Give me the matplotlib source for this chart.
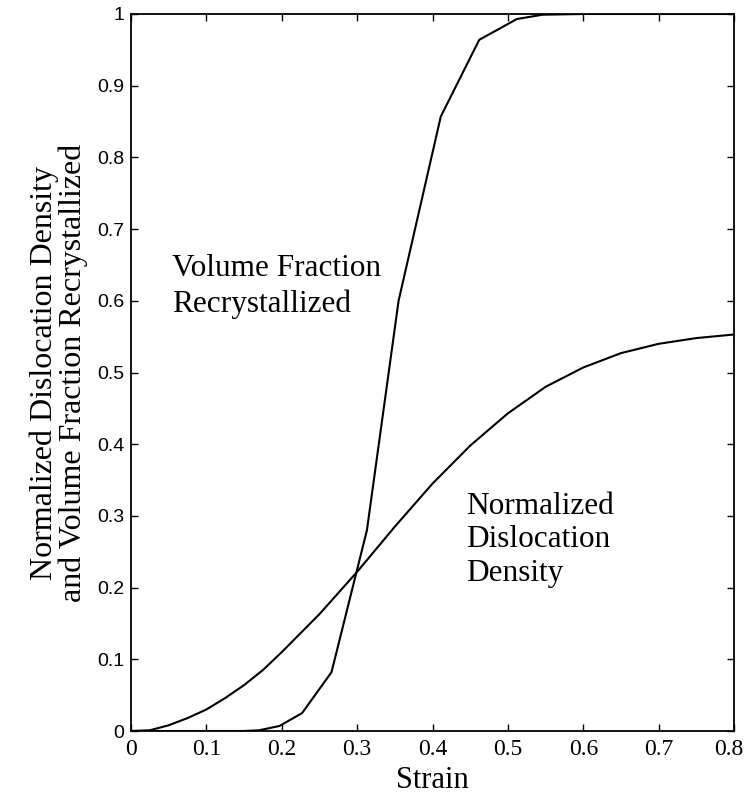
import numpy as np
import matplotlib
matplotlib.use("Agg")
import matplotlib.pyplot as plt
import matplotlib.transforms as mtransforms

# normalized dislocation density vs strain
rho_strain = [0.0, 0.025, 0.05, 0.075, 0.1, 0.125, 0.15, 0.175, 0.2, 0.25, 0.3,
              0.35, 0.4, 0.45, 0.5, 0.55, 0.6, 0.65, 0.7, 0.75, 0.8]
rho_value = [0.0, 0.001, 0.008, 0.018, 0.03, 0.046, 0.064, 0.085, 0.11, 0.163, 0.222,
             0.285, 0.345, 0.398, 0.443, 0.48, 0.507, 0.527, 0.54, 0.548, 0.553]

# volume fraction recrystallized vs strain
x_strain = [0.0, 0.15, 0.17, 0.197, 0.227, 0.266, 0.313, 0.355, 0.411, 0.462,
            0.512, 0.546, 0.6, 0.8]
x_value = [0.0, 0.0, 0.001, 0.007, 0.025, 0.082, 0.28, 0.60, 0.857, 0.964,
           0.993, 0.999, 1.0, 1.0]

xticks = [0, 0.1, 0.2, 0.3, 0.4, 0.5, 0.6, 0.7, 0.8]
xticklabels = ["0", "0.1", "0.2", "0.3", "0.4", "0.5", "0.6", "0.7", "0.8"]
yticks = [0, 0.1, 0.2, 0.3, 0.4, 0.5, 0.6, 0.7, 0.8, 0.9, 1]
yticklabels = ["0", "0.1", "0.2", "0.3", "0.4", "0.5", "0.6", "0.7", "0.8", "0.9", "1"]

serif = "Liberation Serif"
sans = "Liberation Sans"

fig = plt.figure(figsize=(7.47, 7.99), dpi=100)
ax = fig.add_axes([131 / 747, 1 - 731 / 799, (734 - 131) / 747, (731 - 14) / 799])

ax.plot(rho_strain, rho_value, "-", c="k", lw=1.5)
ax.plot(x_strain, x_value, "-", c="k", lw=1.5)

ax.set_xlim(0, 0.8)
ax.set_ylim(0, 1)
ax.set_xticks(xticks)
ax.set_xticklabels(xticklabels, fontfamily=serif, fontsize=17)
ax.set_yticks(yticks)
ax.set_yticklabels(yticklabels, fontfamily=sans, fontsize=14)
ax.tick_params(axis="both", direction="in", length=5, width=1, top=True, right=True)
ax.tick_params(axis="x", pad=6)
ax.tick_params(axis="y", pad=5)
for s in ax.spines.values():
    s.set_linewidth(1.3)

# last x label sits a little left so it stays inside the figure
last = ax.get_xticklabels()[-1]
last.set_transform(last.get_transform() + mtransforms.ScaledTranslation(-5 / 100, 0, fig.dpi_scale_trans))

ax.set_xlabel("Strain", fontfamily=serif, fontsize=22, labelpad=4)
ax.set_ylabel("Normalized Dislocation Density\nand Volume Fraction Recrystallized",
              fontfamily=serif, fontsize=23, linespacing=1.0, labelpad=6)

ax.text(0.055, 0.62, "Volume Fraction\nRecrystallized", fontfamily=serif, fontsize=22.5,
        linespacing=1.3, va="center", ha="left")
ax.text(0.445, 0.2, "Normalized\nDislocation\nDensity", fontfamily=serif, fontsize=22.5,
        linespacing=1.2, va="bottom", ha="left")

fig.savefig("out.png", dpi=100)
